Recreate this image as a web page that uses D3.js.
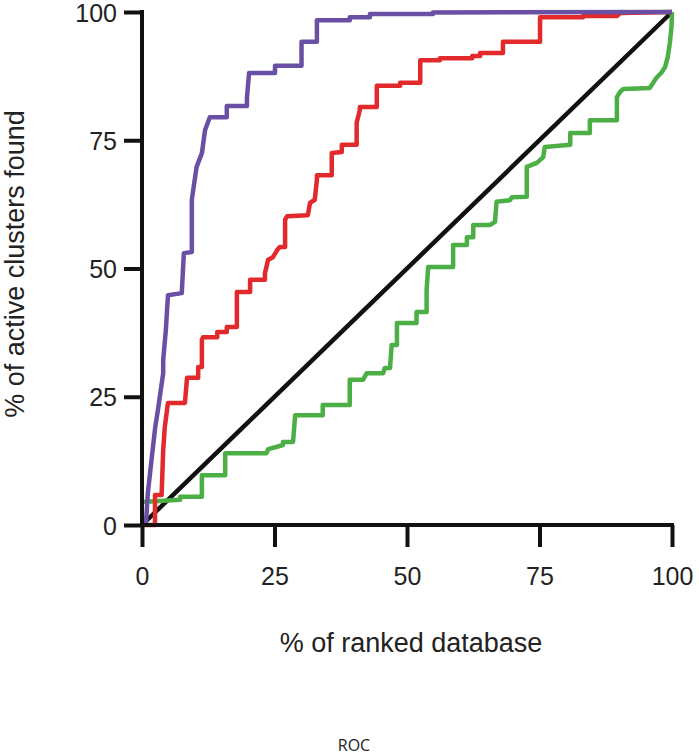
<!DOCTYPE html>
<html>
<head>
<meta charset="utf-8">
<script src="https://cdn.jsdelivr.net/npm/d3@7"></script>
<style>
  html, body { margin: 0; padding: 0; background: #fff; }
  svg { display: block; }
</style>
</head>
<body>
<svg id="chart" width="699" height="755"></svg>
<script>
// ---- data (x = % of ranked database, y = % of active clusters found) ----
const xTicks = [0, 25, 50, 75, 100];
const yTicks = [0, 25, 50, 75, 100];
const xTitle = "% of ranked database";
const yTitle = "% of active clusters found";
const caption = "ROC";

const purpleX = [0, 0.75, 1.1, 1.8, 2.5, 3.0, 4.0, 4.0, 4.5, 4.9, 7.5, 7.9, 9.4, 9.4, 10.3, 11.3, 11.9, 12.8, 16.0, 16.0, 19.8, 19.8, 20.2, 25.1, 25.1, 30.1, 30.1, 33.0, 33.0, 39.2, 39.2, 43.0, 43.0, 54.9, 54.9, 100];
const purpleY = [0, 0.4, 6.2, 12.7, 19.1, 22.4, 29.6, 32.2, 38.0, 44.8, 45.2, 53.0, 53.2, 63.4, 69.8, 72.5, 77.0, 79.5, 79.5, 81.7, 81.7, 83.2, 88.1, 88.1, 89.5, 89.5, 94.2, 94.2, 98.4, 98.4, 99.0, 99.0, 99.6, 99.6, 99.9, 100];

const redX = [0, 2.45, 2.45, 3.7, 4.0, 4.3, 4.9, 8.1, 8.5, 10.6, 10.6, 11.3, 11.3, 11.5, 14.2, 14.2, 16.0, 16.0, 17.9, 17.9, 20.4, 20.4, 23.2, 23.2, 23.8, 24.7, 25.5, 26.0, 27.0, 27.0, 27.4, 31.3, 31.7, 32.6, 33.0, 33.0, 35.8, 35.8, 37.7, 37.7, 40.5, 40.5, 41.1, 41.1, 44.3, 44.3, 48.7, 48.7, 52.5, 52.5, 56.2, 56.2, 62.3, 62.3, 63.8, 63.8, 68.1, 68.1, 75.1, 75.1, 83.2, 83.2, 89.6, 90.2, 100];
const redY = [0, 0, 5.85, 5.85, 14.6, 19.1, 23.8, 23.8, 28.7, 28.7, 30.8, 30.8, 36.1, 36.6, 36.6, 37.6, 37.6, 38.6, 38.6, 45.4, 45.4, 47.8, 47.8, 49.1, 51.7, 52.2, 53.6, 54.2, 54.2, 59.5, 60.2, 60.4, 62.8, 63.4, 67.3, 68.2, 68.2, 72.5, 72.7, 74.1, 74.1, 78.4, 80.9, 81.5, 81.5, 85.6, 85.6, 86.2, 86.2, 90.6, 90.6, 91.0, 91.0, 91.4, 91.4, 92.0, 92.0, 94.2, 94.2, 99.0, 99.0, 99.2, 99.2, 99.8, 100];

const greenX = [0, 7.2, 7.2, 11.3, 11.3, 15.7, 15.7, 23.5, 23.8, 25.3, 26.6, 26.6, 28.5, 28.9, 34.1, 34.1, 39.2, 39.2, 41.7, 42.4, 45.5, 45.8, 46.8, 47.1, 48.1, 48.1, 51.8, 51.8, 53.7, 53.7, 54.0, 58.7, 58.7, 61.3, 61.3, 62.5, 62.5, 65.7, 66.6, 66.9, 69.4, 69.8, 72.6, 72.6, 74.5, 75.7, 76.0, 80.8, 80.8, 84.5, 84.5, 89.6, 89.6, 90.2, 90.8, 95.8, 96.2, 97.0, 98.1, 98.7, 99.2, 99.6, 99.9, 100];
const greenY = [4.5, 4.9, 5.5, 5.5, 9.7, 9.7, 14.0, 14.0, 14.8, 15.2, 15.6, 16.2, 16.2, 21.4, 21.4, 23.4, 23.4, 28.3, 28.3, 29.6, 29.6, 30.6, 30.6, 35.1, 35.1, 39.4, 39.4, 41.5, 41.5, 45.8, 50.3, 50.3, 54.6, 54.6, 56.1, 56.1, 58.5, 58.5, 59.1, 63.0, 63.3, 63.9, 64.0, 69.8, 70.6, 71.7, 73.7, 74.1, 76.4, 76.4, 78.9, 78.9, 83.4, 84.4, 85.0, 85.2, 85.8, 87.1, 88.3, 89.3, 91.2, 94.0, 97.1, 100];

const diagX = [0, 100];
const diagY = [0, 100];

const seriesList = [
  { name: "random", xs: diagX, ys: diagY, color: "#111111" },
  { name: "green", xs: greenX, ys: greenY, color: "#4caf45" },
  { name: "red", xs: redX, ys: redY, color: "#e2292b" },
  { name: "purple", xs: purpleX, ys: purpleY, color: "#6a50a4" }
];

// ---- layout ----
const svg = d3.select("#chart");
const x = d3.scaleLinear().domain([0, 100]).range([142, 672]);
const y = d3.scaleLinear().domain([0, 100]).range([525, 12]);
const font = "'Liberation Sans', Arial, Helvetica, sans-serif";

const line = d3.line().x(d => x(d[0])).y(d => y(d[1]));

const plot = svg.append("g");
seriesList.forEach(s => {
  const pts = s.xs.map((v, i) => [v, s.ys[i]]);
  plot.append("path")
    .datum(pts)
    .attr("d", line)
    .attr("fill", "none")
    .attr("stroke", s.color)
    .attr("stroke-width", 4.5)
    .attr("stroke-linejoin", "round")
    .attr("stroke-linecap", "butt");
});

// axes
const xAxis = d3.axisBottom(x).tickValues(xTicks).tickSize(22).tickPadding(20).tickFormat(d3.format("d"));
const yAxis = d3.axisLeft(y).tickValues(yTicks).tickSize(18).tickPadding(7).tickFormat(d3.format("d"));

const gx = svg.append("g").attr("transform", "translate(0,525)").call(xAxis);
const gy = svg.append("g").attr("transform", "translate(142,0)").call(yAxis);

[gx, gy].forEach(g => {
  g.select(".domain").remove();
  g.selectAll(".tick line").attr("stroke", "#111").attr("stroke-width", 4);
  g.selectAll(".tick text").attr("fill", "#222").style("font-family", font).style("font-size", "25px");
});
gy.selectAll(".tick text").attr("dy", "0.36em");

// axis lines
svg.append("line").attr("x1", x(0)).attr("x2", x(100)).attr("y1", y(0)).attr("y2", y(0))
  .attr("stroke", "#111").attr("stroke-width", 4).attr("stroke-linecap", "square");
svg.append("line").attr("x1", x(0)).attr("x2", x(0)).attr("y1", y(0)).attr("y2", y(100))
  .attr("stroke", "#111").attr("stroke-width", 4).attr("stroke-linecap", "square");

// titles
svg.append("text")
  .attr("x", 411).attr("y", 652)
  .attr("text-anchor", "middle")
  .style("font-family", font).style("font-size", "27px").attr("fill", "#222")
  .text(xTitle);

svg.append("text")
  .attr("transform", "translate(24,264) rotate(-90)")
  .attr("text-anchor", "middle")
  .style("font-family", font).style("font-size", "27px").attr("fill", "#222")
  .text(yTitle);

svg.append("text")
  .attr("x", 354).attr("y", 751)
  .attr("text-anchor", "middle")
  .style("font-family", "'Open Sans', 'Noto Sans', sans-serif").style("font-size", "16px").attr("fill", "#222")
  .text(caption);
</script>
</body>
</html>
